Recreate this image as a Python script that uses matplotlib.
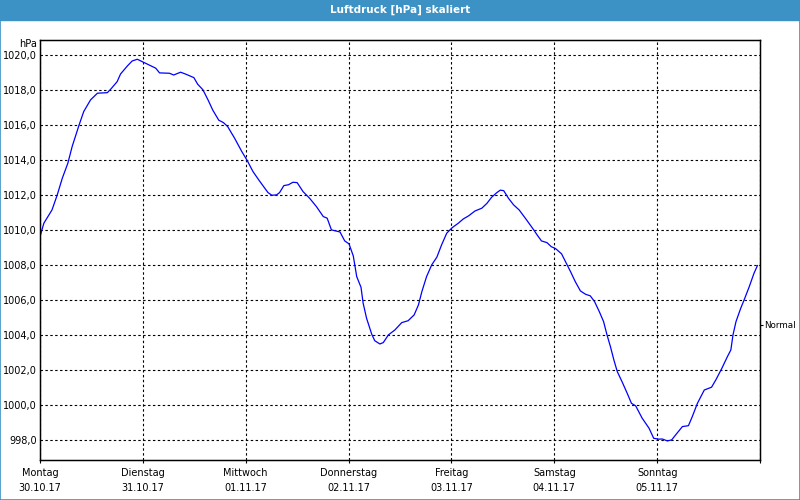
import matplotlib
matplotlib.use('Agg')
import matplotlib.pyplot as plt
from matplotlib.patches import Rectangle

# hours since Monday 30.10.17 00:00, air pressure in hPa
hours = [0.0, 0.9, 2.8, 4.0, 5.2, 6.5, 7.5, 9.1, 10.2, 11.8,
         13.4, 15.7, 16.5, 18.0, 18.8, 20.4, 21.5, 22.7, 23.9, 25.4,
         27.0, 27.9, 30.2, 31.2, 32.8, 34.1, 35.9, 36.8, 38.0, 39.2,
         40.3, 41.7, 42.8, 43.8, 45.4, 47.1, 48.4, 49.7, 51.2, 53.2,
         54.1, 55.2, 55.9, 56.9, 58.0, 59.0, 60.0, 61.4, 62.9, 64.5,
         66.1, 67.0, 68.0, 70.0, 71.1, 72.1, 73.1, 73.9, 74.9, 75.4,
         76.2, 77.4, 78.1, 79.3, 80.1, 81.3, 82.8, 84.4, 85.9, 87.3,
         88.3, 89.1, 90.2, 91.4, 92.6, 93.7, 94.9, 96.2, 97.6, 98.8,
         100.0, 101.5, 103.1, 104.3, 105.4, 106.6, 107.4, 108.2, 109.3, 110.5,
         111.8, 113.5, 115.2, 116.0, 117.0, 118.3, 119.3, 120.3, 121.7, 122.6,
         123.8, 124.9, 126.1, 127.3, 128.4, 129.4, 130.5, 131.5, 132.3, 133.1,
         133.9, 134.7, 135.8, 137.0, 138.0, 139.0, 140.5, 142.1, 143.2, 144.4,
         145.2, 146.4, 147.4, 148.3, 149.9, 151.3, 152.2, 153.4, 155.0, 156.7,
         157.7, 159.1, 160.4, 161.2, 161.7, 162.4, 163.5, 164.3, 165.5, 166.6,
         167.4]
pressure = [1009.63, 1010.40, 1011.16, 1012.00, 1012.97, 1013.83, 1014.78, 1016.00, 1016.78, 1017.45,
            1017.83, 1017.86, 1018.06, 1018.49, 1018.93, 1019.39, 1019.67, 1019.77, 1019.63, 1019.45,
            1019.26, 1018.99, 1018.97, 1018.87, 1019.03, 1018.91, 1018.72, 1018.34, 1018.03, 1017.45,
            1016.87, 1016.29, 1016.15, 1015.92, 1015.26, 1014.49, 1013.96, 1013.35, 1012.82, 1012.15,
            1012.00, 1012.02, 1012.15, 1012.55, 1012.60, 1012.74, 1012.72, 1012.20, 1011.83, 1011.35,
            1010.78, 1010.69, 1010.02, 1009.90, 1009.39, 1009.22, 1008.53, 1007.35, 1006.74, 1005.83,
            1004.97, 1004.06, 1003.69, 1003.50, 1003.58, 1004.02, 1004.30, 1004.72, 1004.83, 1005.16,
            1005.73, 1006.49, 1007.35, 1008.02, 1008.46, 1009.16, 1009.83, 1010.15, 1010.40, 1010.65,
            1010.82, 1011.10, 1011.26, 1011.54, 1011.89, 1012.15, 1012.29, 1012.26, 1011.83, 1011.45,
            1011.16, 1010.60, 1010.02, 1009.73, 1009.39, 1009.29, 1009.06, 1008.95, 1008.65, 1008.21,
            1007.63, 1007.06, 1006.53, 1006.34, 1006.25, 1005.92, 1005.35, 1004.78, 1004.02, 1003.35,
            1002.59, 1001.92, 1001.35, 1000.69, 1000.11, 999.96, 999.26, 998.69, 998.11, 998.06,
            998.07, 997.96, 998.02, 998.30, 998.78, 998.83, 999.35, 1000.11, 1000.87, 1001.03,
            1001.45, 1002.11, 1002.78, 1003.16, 1004.02, 1004.78, 1005.54, 1006.02, 1006.78, 1007.54,
            1007.98]

days = ['Montag', 'Dienstag', 'Mittwoch', 'Donnerstag', 'Freitag', 'Samstag', 'Sonntag']
dates = ['30.10.17', '31.10.17', '01.11.17', '02.11.17', '03.11.17', '04.11.17', '05.11.17']
y_ticks = [998, 1000, 1002, 1004, 1006, 1008, 1010, 1012, 1014, 1016, 1018, 1020]
normal = 1004.6

plt.rcParams['font.family'] = 'DejaVu Sans'
frame_col = '#3c92c5'

fig = plt.figure(figsize=(8, 5), dpi=100, facecolor='white')
ax = fig.add_axes([0.05, 0.08, 0.9, 0.84])

ax.plot(hours, pressure, color='#0000ff', lw=0.9)

ax.set_xlim(0, 168)
ax.set_ylim(996.87, 1020.87)

ax.set_xticks([24 * i for i in range(8)])
ax.set_xticklabels([f'{d}\n{t}' for d, t in zip(days, dates)] + [''], linespacing=1.7)
ax.set_yticks(y_ticks)
ax.set_yticklabels([f'{v:.1f}'.replace('.', ',') for v in y_ticks])

ax.tick_params(axis='x', length=2.5, width=0.8, pad=3, labelsize=7)
ax.tick_params(axis='y', length=0, pad=2.5, labelsize=7)
ax.grid(True, color='black', lw=0.8, linestyle=(0, (2.2, 2.2)))
for s in ax.spines.values():
    s.set_linewidth(1.0)

ax.annotate('hPa', xy=(0, 1), xycoords='axes fraction', xytext=(-3, -4),
            textcoords='offset pixels', ha='right', va='center', fontsize=7)

ax2 = ax.twinx()
ax2.set_ylim(ax.get_ylim())
ax2.set_yticks([normal])
ax2.set_yticklabels(['Normal'])
ax2.tick_params(axis='y', length=2.5, width=0.8, pad=0.8, labelsize=6.3)

# title bar and frame
fig.patches.append(Rectangle((0, 0.96), 1, 0.04, transform=fig.transFigure,
                             color=frame_col, zorder=0))
fig.patches.append(Rectangle((0.0006, 0.001), 0.9988, 0.998, transform=fig.transFigure,
                             fill=False, edgecolor=frame_col, lw=1.2, zorder=0))
fig.text(0.5, 0.98, 'Luftdruck [hPa] skaliert', color='white', fontsize=7.5,
         fontweight='bold', ha='center', va='center')

fig.savefig('out.png', dpi=100)
